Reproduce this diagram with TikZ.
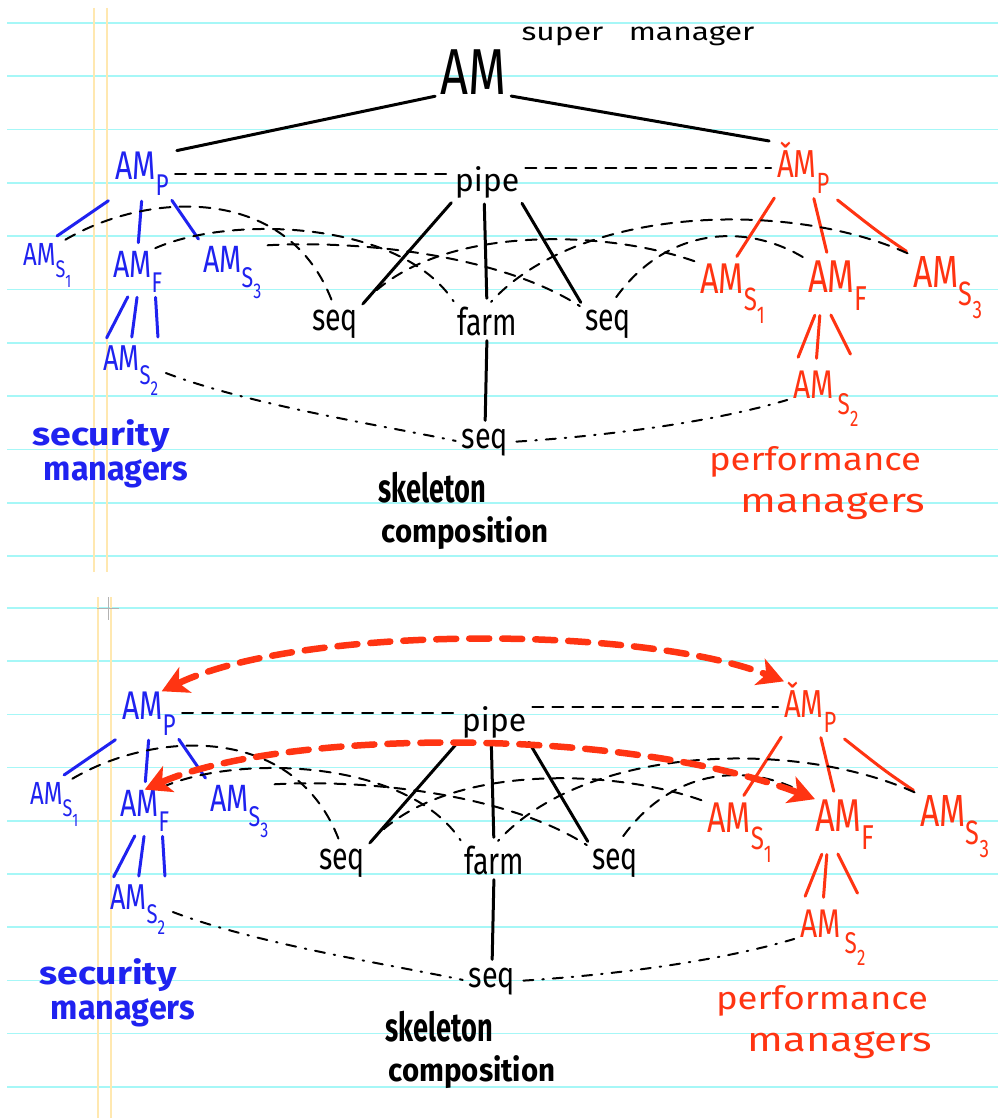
\documentclass[tikz,border=0pt]{standalone}
\usepackage{fontspec}
\usepackage{graphicx}
\setmainfont{Fira Sans}
\newfontfamily\amfont[FakeStretch=0.75]{Fira Sans}
\usetikzlibrary{arrows.meta}
\definecolor{hblue}{HTML}{1F22F0}
\definecolor{hred}{HTML}{FF3412}
\definecolor{ruleline}{HTML}{A6F7F7}
\definecolor{marginline}{HTML}{FFE8B0}
\newcommand\Sb[1]{\raisebox{-0.4em}{\scalebox{0.75}{#1}}}
\newcommand\fs[1]{\fontsize{#1}{#1}\selectfont}
\newcommand\hw[3]{\fs{#1}\scalebox{#2}[1]{#3}}
\tikzset{
  lab/.style={inner sep=0pt, anchor=base west},
  word/.style={inner sep=0pt, anchor=base},
  tree/.style={line width=3pt, line cap=round, shorten <=5pt, shorten >=8pt},
  link/.style={line width=2pt, dash pattern=on 11pt off 9pt, line cap=round, shorten <=6pt, shorten >=6pt},
  dlink/.style={line width=2pt, dash pattern=on 10pt off 9pt on 1.5pt off 9pt, line cap=round, shorten <=8pt, shorten >=6pt},
  redarrow/.style={hred, line width=6.5pt, dash pattern=on 20pt off 13pt, line cap=round,
     {Stealth[length=26pt,width=28pt,inset=7pt]}-{Stealth[length=26pt,width=28pt,inset=7pt]}},
}
\newcommand\panel[1]{%
  % blue managers
  \node[lab,hblue,font={\amfont\fs{40}}] (#1bamp) at (115,180) {AM\Sb{P}};
  \node[lab,hblue,font={\amfont\fs{32}}] (#1bams1) at (23,265) {AM\Sb{S\Sb{1}}};
  \node[lab,hblue,font={\amfont\fs{38}}] (#1bamf) at (113,277) {AM\Sb{F}};
  \node[lab,hblue,font={\amfont\fs{38}}] (#1bams3) at (203,272) {AM\Sb{S\Sb{3}}};
  \node[lab,hblue,font={\amfont\fs{36}}] (#1bams2) at (103,370) {AM\Sb{S\Sb{2}}};
  % red managers
  \node[lab,hred,font={\amfont\fs{39}}] (#1ramp) at (777,178) {ǍM\Sb{P}};
  \node[lab,hred,font={\amfont\fs{43}}] (#1rams1) at (700,293) {AM\Sb{S\Sb{1}}};
  \node[lab,hred,font={\amfont\fs{46}}] (#1ramf) at (808,292) {AM\Sb{F}};
  \node[lab,hred,font={\amfont\fs{45}}] (#1rams3) at (913,287) {AM\Sb{S\Sb{3}}};
  \node[lab,hred,font={\amfont\fs{40}}] (#1rams2) at (793,398) {AM\hspace{4pt}\Sb{S\Sb{2}}};
  % skeleton
  \node[word] (#1pipe) at (487,192) {\hw{32}{1}{pipe}};
  \node[word] (#1seqL) at (335,330) {\hw{38}{0.75}{seq}};
  \node[word] (#1farm) at (487,335) {\hw{38}{0.75}{farm}};
  \node[word] (#1seqR) at (608,330) {\hw{38}{0.75}{seq}};
  \node[word] (#1bseq) at (485,448) {\hw{36}{0.8}{seq}};
  % captions
  \node[word,hblue,font=\bfseries] (#1secA) at (101,445) {\hw{32}{1.17}{security}};
  \node[word,hblue,font=\bfseries] (#1secB) at (116,480) {\hw{34}{0.95}{managers}};
  \node[word,font=\bfseries] (#1skA) at (432,502) {\hw{40}{0.68}{skeleton}};
  \node[word,font=\bfseries] (#1skB) at (465,542) {\hw{32}{0.92}{composition}};
  \node[word,hred] (#1perA) at (815,470) {\hw{32}{1.14}{performance}};
  \node[word,hred] (#1perB) at (833,512) {\hw{34}{1.23}{managers}};
  % tree edges
  \draw[tree,hblue,shorten <=8pt,shorten >=12pt] (#1bamp.south west) -- (#1bams1.north);
  \draw[tree,hblue] (#1bamp.south) -- (#1bamf.north);
  \draw[tree,hblue] (#1bamp.south east) -- (#1bams3.north west);
  \draw[tree,hblue] (#1bamf.-110) -- (#1bams2.north west);
  \draw[tree,hblue] (#1bamf.south) -- (#1bams2.north);
  \draw[tree,hblue] (#1bamf.-50) -- (#1bams2.north east);
  \draw[tree,hred] (#1ramp.south west) -- (#1rams1.north);
  \draw[tree,hred] (#1ramp.-70) -- (#1ramf.110);
  \draw[tree,hred,shorten <=10pt] (#1ramp.south east) .. controls (878,232) .. (#1rams3.north west);
  \draw[tree,hred,shorten >=14pt] (#1ramf.-130) -- (#1rams2.north west);
  \draw[tree,hred,shorten >=12pt] (#1ramf.-125) -- (#1rams2.110);
  \draw[tree,hred,shorten >=18pt] (#1ramf.-110) -- (#1rams2.north east);
  \draw[tree] (#1pipe.south west) -- (#1seqL.north east);
  \draw[tree] (#1pipe.-100) -- (#1farm.north);
  \draw[tree] (#1pipe.south east) -- (#1seqR.north west);
  \draw[tree] (#1farm.south) -- (#1bseq.north);
  % manager links
  \draw[link] (#1bamp.east) -- (#1bamp.east -| #1pipe.west);
  \draw[link] (#1pipe.east |- #1ramp.west) -- (#1ramp.west);
  \draw[link] (#1bams1.60) .. controls (150,190) and (290,185) .. (#1seqL.north);
  \draw[link] (#1bamf.60) .. controls (230,215) and (400,220) .. (#1farm.north west);
  \draw[link] (#1bams3.north east) .. controls (360,240) and (500,255) .. (#1seqR.north west);
  \draw[link] (#1rams1.north west) .. controls (600,228) and (430,225) .. (#1seqL.north east);
  \draw[link] (#1rams3.north west) .. controls (790,200) and (580,205) .. (#1farm.north);
  \draw[link] (#1ramf.north west) .. controls (740,220) and (660,230) .. (#1seqR.north);
  \draw[dlink] (#1bams2.east) .. controls (250,405) and (380,425) .. (#1bseq.west);
  \draw[dlink] (#1bseq.east) .. controls (620,435) and (720,420) .. (#1rams2.west);
}
\begin{document}
\begin{tikzpicture}[x=1pt,y=-1pt]
  \useasboundingbox (0,0) rectangle (998,1118);
  \fill[white] (0,0) rectangle (998,1118);
  % ruled paper
  \foreach \k in {0,...,10} \draw[ruleline, line width=1.6pt] (7,23+53.3*\k) -- (998,23+53.3*\k);
  \foreach \k in {0,...,9} \draw[ruleline, line width=1.6pt] (7,608+53.2*\k) -- (998,608+53.2*\k);
  \draw[marginline, line width=1.6pt] (94,8) -- (94,572) (107,8) -- (107,572);
  \draw[marginline, line width=1.6pt] (98,597) -- (98,1118) (111,597) -- (111,1118);
  \draw[black!30, line width=1pt] (108,597) -- (108,620) (97,608) -- (119,608);
  % top panel
  \node[lab,font={\amfont\fs{65}}] (AM) at (440,95) {AM};
  \node[word] (super) at (638,41) {\hw{25}{1.27}{super\hspace{0.8em}manager}};
  \panel{T}
  \draw[tree] (AM.south west) -- (Tbamp.north east);
  \draw[tree] (AM.south east) -- (Tramp.north west);
  % bottom panel
  \begin{scope}[shift={(7,539)}]
    \panel{B}
  \end{scope}
  \draw[redarrow] (Bbamp.60) .. controls (300,625) and (640,625) .. (Bramp.north west);
  \draw[redarrow] (Bbamf.north) .. controls (280,730) and (620,725) .. (Bramf.north west);
\end{tikzpicture}
\end{document}
